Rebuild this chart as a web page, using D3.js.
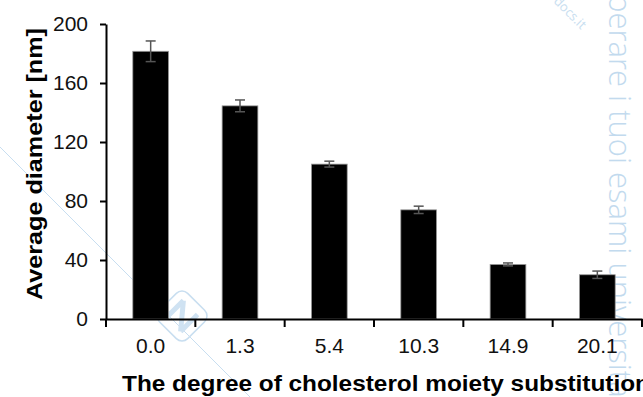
<!DOCTYPE html>
<meta charset="utf-8">
<script src="https://d3js.org/d3.v7.min.js"></script>
<style>
  body { margin: 0; background: #fff; }
  text { font-family: "Liberation Sans", Arial, sans-serif; }
</style>
<svg id="chart" width="643" height="397"></svg>
<script>

// data
var degrees = ["0.0", "1.3", "5.4", "10.3", "14.9", "20.1"];
var diameters = [181.5, 144.5, 105, 74, 37, 30];
var errors = [7, 4, 2, 2.5, 1, 2.5];
var yTicks = [0, 40, 80, 120, 160, 200];

var svg = d3.select("#chart");

var x = d3.scaleBand()
    .domain(degrees)
    .range([106, 642])
    .paddingInner(0.6)
    .paddingOuter(0.3);

var y = d3.scaleLinear()
    .domain([0, 200])
    .range([319, 24]);

// watermark (drawn first, behind the chart)
var wm = svg.append("g").attr("fill", "none").attr("stroke", "#c8def0");
wm.append("line")
    .attr("x1", 0).attr("y1", 147)
    .attr("x2", 250).attr("y2", 397)
    .attr("stroke-width", 1);
wm.append("rect")
    .attr("x", -20).attr("y", -20)
    .attr("width", 40).attr("height", 40)
    .attr("rx", 8)
    .attr("transform", "translate(182,316) rotate(45)")
    .attr("stroke-width", 1.5);
wm.append("path")
    .attr("d", "M-10,-12 L-10,12 M-10,-12 L10,12 M10,-12 L10,12")
    .attr("transform", "translate(182,316) rotate(45)")
    .attr("stroke-width", 5)
    .attr("stroke", "#cfe2f2");
svg.append("text")
    .attr("transform", "translate(553,2) rotate(45)")
    .attr("fill", "#c8def0")
    .style("font-family", "'Open Sans', sans-serif")
    .style("font-size", "13px")
    .text("docs.it");
svg.append("text")
    .attr("transform", "translate(609,-6) rotate(90)")
    .attr("fill", "#c2daee")
    .style("font-family", "'Open Sans', sans-serif")
    .style("font-weight", 300)
    .style("font-size", "31px")
    .text("perare i tuoi esami universitari");

// bars
svg.append("g")
  .selectAll("rect")
  .data(degrees)
  .enter().append("rect")
    .attr("x", function(d){ return x(d); })
    .attr("y", function(d, i){ return y(diameters[i]); })
    .attr("width", x.bandwidth())
    .attr("height", function(d, i){ return y(0) - y(diameters[i]); })
    .attr("fill", "#000")
    .attr("stroke", "#999")
    .attr("stroke-width", 0.8);

// error bars
var eb = svg.append("g")
    .attr("stroke", "#555")
    .attr("stroke-width", 1.5)
  .selectAll("g")
  .data(degrees)
  .enter().append("g");
eb.append("line")
    .attr("x1", function(d){ return x(d) + x.bandwidth() / 2; })
    .attr("x2", function(d){ return x(d) + x.bandwidth() / 2; })
    .attr("y1", function(d, i){ return y(diameters[i] + errors[i]); })
    .attr("y2", function(d, i){ return y(diameters[i] - errors[i]); });
[1, -1].forEach(function(s){
  eb.append("line")
      .attr("x1", function(d){ return x(d) + x.bandwidth() / 2 - 5; })
      .attr("x2", function(d){ return x(d) + x.bandwidth() / 2 + 5; })
      .attr("y1", function(d, i){ return y(diameters[i] + s * errors[i]); })
      .attr("y2", function(d, i){ return y(diameters[i] + s * errors[i]); });
});

// y axis
var yAxis = svg.append("g")
    .attr("transform", "translate(106,0)")
    .call(d3.axisLeft(y).tickValues(yTicks).tickSize(6).tickSizeOuter(0).tickPadding(12));
yAxis.select(".domain").attr("stroke-width", 2);
yAxis.selectAll(".tick line").attr("stroke-width", 2);
yAxis.selectAll("text")
    .style("font-size", "21px")
    .attr("fill", "#111");

// x axis: labels under bars, ticks between bars
var xAxis = svg.append("g")
    .attr("transform", "translate(0,319)")
    .call(d3.axisBottom(x).tickSize(0).tickSizeOuter(0).tickPadding(19));
xAxis.select(".domain").attr("stroke-width", 2);
xAxis.selectAll("text")
    .style("font-size", "21px")
    .attr("fill", "#111");

var step = x.step();
var bounds = degrees.map(function(d){ return x(d) + x.bandwidth() / 2 - step / 2; });
bounds.push(x.range()[1]);
xAxis.selectAll(".sep")
  .data(bounds)
  .enter().append("line")
    .attr("x1", function(d){ return d; })
    .attr("x2", function(d){ return d; })
    .attr("y1", 0)
    .attr("y2", 8)
    .attr("stroke", "#000")
    .attr("stroke-width", 2);

// axis titles
svg.append("text")
    .attr("x", 122)
    .attr("y", 391)
    .attr("textLength", 528)
    .attr("lengthAdjust", "spacingAndGlyphs")
    .style("font-size", "22px")
    .style("font-weight", "bold")
    .text("The degree of cholesterol moiety substitution");

svg.append("text")
    .attr("transform", "translate(42,300) rotate(-90)")
    .attr("textLength", 272)
    .attr("lengthAdjust", "spacingAndGlyphs")
    .style("font-size", "22px")
    .style("font-weight", "bold")
    .text("Average diameter [nm]");

</script>
